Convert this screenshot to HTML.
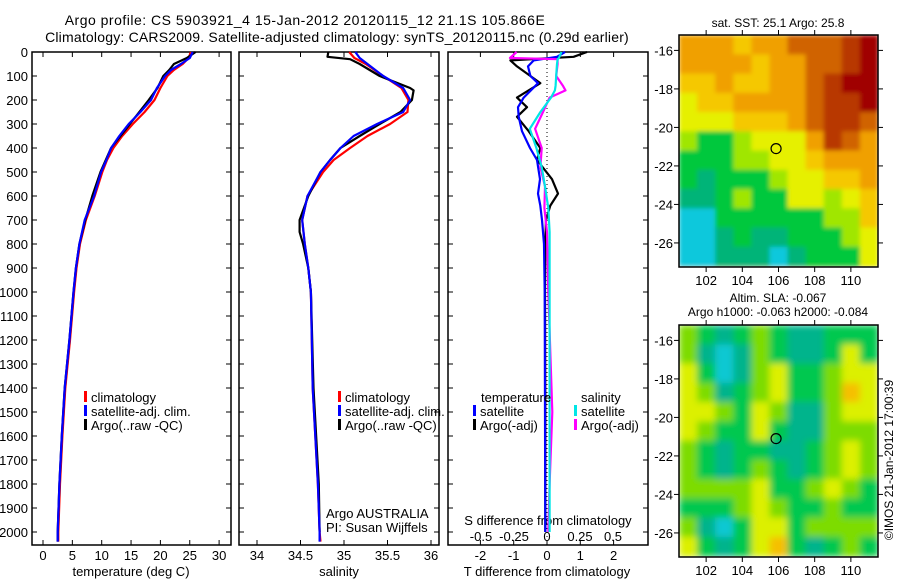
<!DOCTYPE html>
<html><head><meta charset="utf-8"><style>
html,body{margin:0;padding:0;background:#fff}
svg{display:block}
text{font-family:"Liberation Sans","DejaVu Sans",sans-serif;font-size:13px;fill:#000}
</style></head><body>
<svg id="fig" width="900" height="580" viewBox="0 0 900 580" xmlns="http://www.w3.org/2000/svg">
<defs>
<filter id="blurS" x="0" y="0" width="1" height="1"><feGaussianBlur stdDeviation="2" edgeMode="duplicate"/></filter>
<filter id="blurL" x="0" y="0" width="1" height="1"><feGaussianBlur stdDeviation="3.5" edgeMode="duplicate"/></filter>
<clipPath id="clip1"><rect x="679" y="35" width="199" height="232"/></clipPath>
<clipPath id="clip2"><rect x="679" y="325" width="199" height="232"/></clipPath>
</defs>
<text x="305" y="25" text-anchor="middle" style="font-size:14px;letter-spacing:0.5px">Argo profile: CS 5903921_4 15-Jan-2012 20120115_12 21.1S 105.866E</text>
<text x="337" y="42" text-anchor="middle" style="font-size:14px;letter-spacing:0.2px">Climatology: CARS2009. Satellite-adjusted climatology: synTS_20120115.nc (0.29d earlier)</text>
<g id="g1"></g>
<g id="g2"></g>
<g id="g3"></g>
<g id="m1"></g>
<g id="m2"></g>
<text x="778" y="27" text-anchor="middle" style="font-size:12px">sat. SST: 25.1 Argo: 25.8</text>
<text x="778" y="302" text-anchor="middle" style="font-size:12px">Altim. SLA: -0.067</text>
<text x="778" y="316" text-anchor="middle" style="font-size:12px">Argo h1000: -0.063 h2000: -0.084</text>
<text transform="translate(893,460) rotate(-90)" text-anchor="middle" style="font-size:12px">©IMOS 21-Jan-2012 17:00:39</text>
</svg>
<script>
// ---- data ----
const depths = [0,25,50,75,100,150,200,250,300,350,400,450,500,600,700,800,900,1000,1200,1400,1600,1800,2000,2040];
const tempClim = [25.2,24.8,23.8,22.3,21.2,20.0,19.0,17.3,15.3,13.5,12.0,10.9,10.1,8.8,7.3,6.3,5.7,5.3,4.6,3.8,3.3,2.9,2.6,2.6];
const tempSat  = [25.5,25.0,23.5,21.8,20.8,19.4,18.4,16.6,14.6,13.0,11.6,10.8,9.9,8.7,7.1,6.2,5.6,5.2,4.5,3.7,3.2,2.8,2.5,2.5];
const tempArgo = [26.0,24.5,22.3,21.5,20.5,19.5,18.0,16.4,14.8,13.2,11.6,10.7,9.8,8.4,7.2,6.2,5.6,5.2,4.5,3.7,3.2,2.8,2.5,2.5];
const salDepths = [0,25,50,100,150,200,250,300,350,400,450,500,600,700,800,900,1000,1200,1400,1600,1800,2000,2040];
const salClim = [35.06,35.12,35.25,35.45,35.66,35.74,35.73,35.53,35.27,35.07,34.88,34.76,34.58,34.52,34.55,34.59,34.62,34.63,34.64,34.67,34.70,34.72,34.73];
const salSat  = [35.13,35.18,35.27,35.45,35.68,35.76,35.68,35.38,35.11,34.96,34.84,34.73,34.58,34.52,34.55,34.59,34.62,34.63,34.64,34.67,34.70,34.72,34.72];
const argoSalDepths = [0,20,30,50,100,150,160,200,250,300,350,400,450,500,600,700,750,800,900,1000,1400,1800,2000];
const salArgo = [34.82,34.81,35.07,35.18,35.41,35.76,35.80,35.78,35.65,35.41,35.18,34.96,34.84,34.73,34.59,34.49,34.49,34.53,34.59,34.62,34.65,34.71,34.72];
const dtDepths = [0,20,35,60,100,130,190,230,270,330,400,450,530,590,640,700,800,1000,1500,2000];
const dtSat  = [0.54,0.3,-0.4,-0.57,-0.5,-0.27,-0.7,-0.87,-0.85,-0.75,-0.51,-0.3,-0.21,-0.27,-0.2,-0.15,-0.09,-0.07,-0.06,-0.05];
const dtArgo = [1.2,0.8,-1.1,-0.9,-0.5,-0.2,-0.9,-0.6,-0.9,-0.55,-0.2,-0.3,0.15,0.33,0.1,-0.03,-0.05,-0.06,-0.05,-0.05];
const dsDepths = [0,25,30,50,100,140,160,190,250,320,400,480,560,650,750,1000,1500,1800,2000];
const dsSat  = [0.11,0.09,0.08,0.076,0.07,0.065,0.06,0.03,-0.05,-0.13,-0.08,-0.04,-0.015,0.01,0.02,0.02,0.02,0.02,0.02];
const dsArgo = [-0.23,-0.28,0.08,0.08,0.07,0.12,0.14,0.02,-0.03,-0.09,-0.04,-0.05,-0.015,-0.02,0.0,0.01,0.04,0.02,0.01];
const depthTicks = [0,100,200,300,400,500,600,700,800,900,1000,1100,1200,1300,1400,1500,1600,1700,1800,1900,2000];
const tempTicks = [0,5,10,15,20,25,30];
const salTicks = [34,34.5,35,35.5,36];
const dtTicks = [-2,-1,0,1,2];
const dsTicks = [-0.5,-0.25,0,0.25,0.5];
const dsTickLabels = ["-0.5","-0.25","0","0.25","0.5"];
const lonTicks = [102,104,106,108,110];
const latTicks = [-16,-18,-20,-22,-24,-26];
const sstGrid = [
[6,6,6,5,6,6,7,7,7,8,9],[6,6,6,6,5,6,6,7,7,8,9],[5,5,6,5,5,6,6,7,8,9,9],[4,5,5,6,6,6,6,7,8,8,9],
[4,4,4,5,5,5,6,7,8,8,7],[3,2,2,3,4,4,4,6,8,7,6],[2,2,2,3,3,4,4,5,6,6,6],[2,1,2,2,2,3,4,4,5,5,6],
[1,1,2,3,2,2,4,4,3,4,5],[0,0,2,2,2,2,2,2,3,3,5],[0,0,1,2,1,1,2,2,2,3,4],[0,0,1,1,1,0,1,2,2,2,4]];
const slaGrid = [
[3,2,1,2,3,2,1,1,2,2,2],[3,1,0,1,3,2,1,1,2,4,2],[4,2,0,1,3,4,2,2,3,4,4],[4,3,1,2,3,4,2,2,3,5,4],
[4,4,3,2,4,3,1,1,3,4,4],[4,3,2,2,4,2,1,1,3,3,3],[3,2,1,2,2,1,1,2,3,4,3],[3,2,1,2,3,2,1,2,3,4,3],
[3,3,3,3,4,2,2,3,4,3,2],[2,2,2,3,4,3,2,2,3,2,2],[3,1,0,2,4,4,2,3,3,3,3],[4,2,1,2,4,5,2,1,2,3,2]];
const argoLon = 105.866, argoLat = -21.1;

const sstColors = ["#10c8dc","#00b478","#00c83c","#a0e600","#e6f000","#f5c800","#f0a000","#d06400","#b83800","#a00000"];
const slaColors = ["#10c8d2","#00b48c","#00c850","#7ddc00","#dcf000","#f5c000"];
const NS="http://www.w3.org/2000/svg";
function mk(parent,tag,attrs){const e=document.createElementNS(NS,tag);for(const k in attrs)e.setAttribute(k,attrs[k]);parent.appendChild(e);return e;}
const Y0=52, YB=545;
const yD = d => Y0 + d*0.24;
const xT = t => 43 + t*5.87;
const xS = s => 257 + (s-34)*87;
const xDT = t => 547 + t*33.3;
const xDS = s => 547 + s*132;

function frame(g,x0,x1,name){
  const r=mk(g,'rect',{x:x0,y:Y0,width:x1-x0,height:YB-Y0,fill:'none',stroke:'#000','stroke-width':1.5});
  
  
  depthTicks.forEach(d=>{
    mk(g,'line',{x1:x0,x2:x0+5,y1:yD(d),y2:yD(d),stroke:'#000'});
    mk(g,'line',{x1:x1,x2:x1-5,y1:yD(d),y2:yD(d),stroke:'#000'});
  });
}
function xticks(g,vals,f,labels,ly){
  vals.forEach((v,i)=>{
    const x=f(v);
    mk(g,'line',{x1:x,x2:x,y1:Y0,y2:Y0+5,stroke:'#000'});
    mk(g,'line',{x1:x,x2:x,y1:YB,y2:YB-5,stroke:'#000'});
    const t=mk(g,'text',{x:x,y:ly,'text-anchor':'middle'});t.textContent=labels?labels[i]:String(v);
    
    
  });
}
function line(g,xs,ds,fx,color,name,w){
  const p=xs.map((v,i)=>(i?'L':'M')+fx(v).toFixed(1)+','+yD(ds[i]).toFixed(1)).join('');
  const e=mk(g,'path',{d:p,fill:'none',stroke:color,'stroke-width':w||2.2,'stroke-linejoin':'round'});
  
  
}
function label(g,x,y,s,anchor,name){const t=mk(g,'text',{x:x,y:y,'text-anchor':anchor||'start'});t.textContent=s;return t;}
function legend(g,x,y,color,s,name){mk(g,'rect',{x:x,y:y-11,width:3,height:11,fill:color});label(g,x+7,y,s,'start',name);}

// panel 1
const g1=document.getElementById('g1');
frame(g1,32,231,'temperature-plot-frame');
depthTicks.forEach(d=>label(g1,28,yD(d)+5,String(d),'end','depth-tick-label'));
xticks(g1,tempTicks,xT,null,560);
label(g1,131,576,'temperature (deg C)','middle','temperature-axis-title');
line(g1,tempClim,depths,xT,'#ff0000','temp-climatology-line');
line(g1,tempArgo,depths,xT,'#000000','temp-argo-line');
line(g1,tempSat,depths,xT,'#0000ff','temp-satellite-line');
legend(g1,84,402,'#ff0000','climatology','legend-climatology');
legend(g1,84,416,'#0000ff','satellite-adj. clim.','legend-satellite');
legend(g1,84,430,'#000000','Argo(..raw -QC)','legend-argo');

// panel 2
const g2=document.getElementById('g2');
frame(g2,239,439,'salinity-plot-frame');
xticks(g2,salTicks,xS,null,560);
label(g2,339,576,'salinity','middle','salinity-axis-title');
line(g2,salClim,salDepths,xS,'#ff0000','sal-climatology-line');
line(g2,salArgo,argoSalDepths,xS,'#000000','sal-argo-line');
line(g2,salSat,salDepths,xS,'#0000ff','sal-satellite-line');
legend(g2,338,402,'#ff0000','climatology','legend-climatology');
legend(g2,338,416,'#0000ff','satellite-adj. clim.','legend-satellite');
legend(g2,338,430,'#000000','Argo(..raw -QC)','legend-argo');
label(g2,326,518,'Argo AUSTRALIA','start','float-agency');
label(g2,326,532,'PI: Susan Wijffels','start','float-pi');

// panel 3
const g3=document.getElementById('g3');
frame(g3,448,648,'difference-plot-frame');
mk(g3,'line',{x1:547,x2:547,y1:Y0,y2:YB,stroke:'#000','stroke-dasharray':'1,3'});
xticks(g3,dtTicks,xDT,null,560);
dsTicks.forEach((v,i)=>{label(g3,xDS(v),541,dsTickLabels[i],'middle','s-diff-tick-label');});
label(g3,548,525,'S difference from climatology','middle','s-diff-axis-title');
label(g3,547,576,'T difference from climatology','middle','t-diff-axis-title');
line(g3,dtArgo,dtDepths,xDT,'#000000','t-diff-argo-line');
line(g3,dtSat,dtDepths,xDT,'#0000ff','t-diff-satellite-line');
line(g3,dsArgo,dsDepths,xDS,'#ff00ff','s-diff-argo-line');
line(g3,dsSat,dsDepths,xDS,'#00e6e6','s-diff-satellite-line');
label(g3,481,402,'temperature','start','legend-temperature-heading');
legend(g3,473,416,'#0000ff','satellite','legend-t-satellite');
legend(g3,473,430,'#000000','Argo(-adj)','legend-t-argo');
label(g3,581,402,'salinity','start','legend-salinity-heading');
legend(g3,574,416,'#00e6e6','satellite','legend-s-satellite');
legend(g3,574,430,'#ff00ff','Argo(-adj)','legend-s-argo');

// maps
const lon0=100.5, lat0=-15.2;
function drawMap(id,top,grid,colors,name,filt,clip){
  const g=document.getElementById(id);
  const X0=679,X1=878,Yt=top,Yb=top+232;
  const px=(X1-X0)/11, py=(Yb-Yt)/12.05;
  const xL = lon => X0 + (lon-lon0)*px;
  const yL = lat => Yt + (lat0-lat)*py;
  const cg=mk(g,'g',{'clip-path':'url(#'+clip+')'});
  const cells=mk(cg,'g',{filter:'url(#'+filt+')'});
  mk(cells,'rect',{x:X0,y:Yt,width:X1-X0,height:Yb-Yt,fill:colors[grid[0][0]]});
  grid.forEach((row,r)=>row.forEach((v,c)=>{
    const e=mk(cells,'rect',{x:(xL(lon0+c)).toFixed(1),y:(yL(lat0-r)).toFixed(1),width:(px+0.6).toFixed(1),height:(py+0.6).toFixed(1),fill:colors[v]});
    
    
  }));
  mk(g,'rect',{x:X0,y:Yt,width:X1-X0,height:Yb-Yt,fill:'none',stroke:'#000','stroke-width':1.5});
  lonTicks.forEach(l=>{const x=xL(l);mk(g,'line',{x1:x,x2:x,y1:Yt,y2:Yt-5,stroke:'#000'});mk(g,'line',{x1:x,x2:x,y1:Yb,y2:Yb+5,stroke:'#000'});label(g,x,Yb+18,String(l),'middle','lon-tick-label');});
  latTicks.forEach(l=>{const y=yL(l);mk(g,'line',{x1:X0,x2:X0-5,y1:y,y2:y,stroke:'#000'});mk(g,'line',{x1:X1,x2:X1+5,y1:y,y2:y,stroke:'#000'});label(g,X0-6,y+5,String(l),'end','lat-tick-label');});
  const c=mk(g,'circle',{cx:xL(argoLon),cy:yL(argoLat),r:5,fill:'none',stroke:'#000','stroke-width':1.2});
  
  
}
drawMap('m1',35,sstGrid,sstColors,'sst','blurS','clip1');
drawMap('m2',325,slaGrid,slaColors,'sla','blurL','clip2');
</script>
</body></html>
